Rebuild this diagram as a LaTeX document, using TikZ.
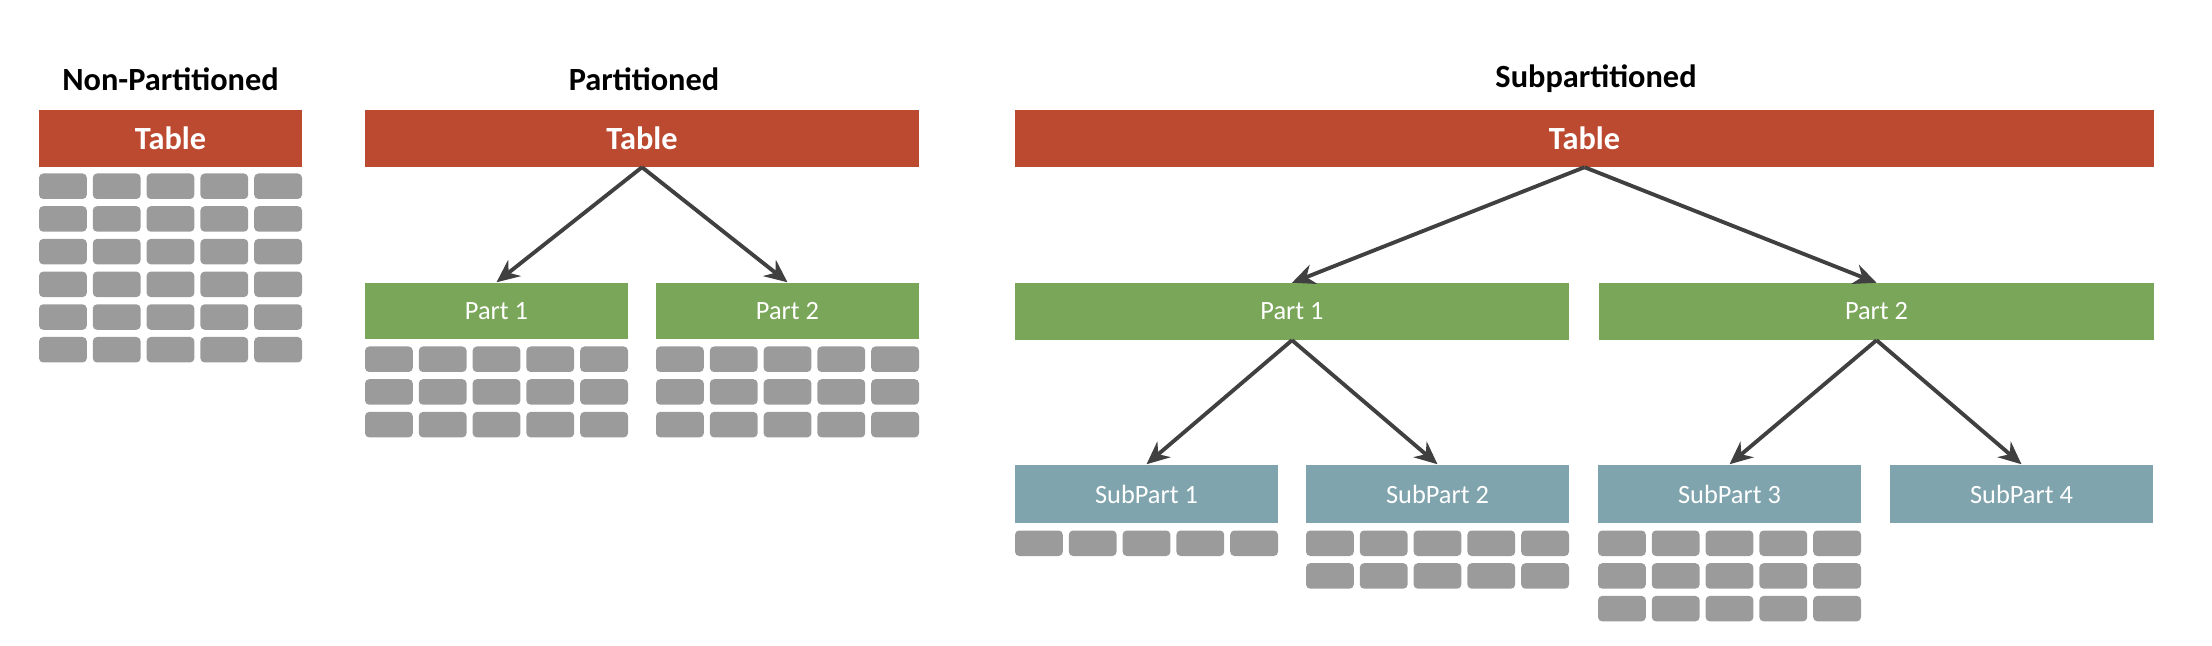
\documentclass[tikz,border=0pt]{standalone}
\usepackage{fontspec}
\setmainfont{Carlito}
\usepackage{xcolor}
\usepackage{tikz}
\usetikzlibrary{arrows.meta}
\definecolor{tablered}{HTML}{BB4A30}
\definecolor{partgreen}{HTML}{7AA65A}
\definecolor{subteal}{HTML}{80A4AD}
\definecolor{cellgray}{HTML}{9B9B9B}
\definecolor{arrowgray}{HTML}{404040}
\tikzset{>={Stealth[length=6.5pt,width=5.8pt]}}
\tikzset{
  title/.style={font=\fontsize{9.2}{11}\selectfont\bfseries},
  box/.style={inner sep=0pt,text=white,minimum height=0.56cm},
  tablebox/.style={box,fill=tablered,font=\fontsize{9.2}{11}\selectfont\bfseries},
  partbox/.style={box,fill=partgreen,font=\fontsize{7.5}{9}\selectfont},
  subbox/.style={box,fill=subteal,minimum height=0.58cm,font=\fontsize{7.5}{9}\selectfont},
  link/.style={->,draw=arrowgray,line width=1.1pt},
  cell/.style={fill=cellgray,rounded corners=1.2pt}
}

\begin{document}
\begin{tikzpicture}[x=0.01cm,y=-0.01cm]
    \useasboundingbox (0,0) rectangle (2212,646);
    % titles
    \node[title] (npt) at (170.5,79) {Non-Partitioned};
    \node[title] (pt) at (644,79) {Partitioned};
    \node[title] (spt) at (1596,79) {Subpartitioned};
    % non-partitioned
    \node[tablebox,minimum width=2.63cm] (nptab) at (170.5,138.5) {Table};
    % partitioned
    \node[tablebox,minimum width=5.54cm] (ptab) at (642,138.5) {Table};
    \node[partbox,minimum width=2.63cm] (ppart1) at (496.5,311) {Part 1};
    \node[partbox,minimum width=2.63cm] (ppart2) at (787.5,311) {Part 2};
    % subpartitioned
    \node[tablebox,minimum width=11.39cm] (stab) at (1584.5,138.5) {Table};
    \node[partbox,minimum width=5.54cm] (spart1) at (1292,311.5) {Part 1};
    \node[partbox,minimum width=5.55cm] (spart2) at (1876.5,311.5) {Part 2};
    \node[subbox,minimum width=2.63cm] (sub1) at (1146.5,494) {SubPart 1};
    \node[subbox,minimum width=2.63cm] (sub2) at (1437.5,494) {SubPart 2};
    \node[subbox,minimum width=2.63cm] (sub3) at (1729.5,494) {SubPart 3};
    \node[subbox,minimum width=2.63cm] (sub4) at (2021.5,494) {SubPart 4};
    % arrows
    \draw[link] (ptab.south) -- (ppart1.north);
    \draw[link] (ptab.south) -- (ppart2.north);
    \draw[link] (stab.south) -- (spart1.north);
    \draw[link] (stab.south) -- (spart2.north);
    \draw[link] (spart1.south) -- (sub1.north);
    \draw[link] (spart1.south) -- (sub2.north);
    \draw[link] (spart2.south) -- (sub3.north);
    \draw[link] (spart2.south) -- (sub4.north);
    % rows of cells
    \foreach \y in {173.5,206.2,238.9,271.6,304.3,337}
      \foreach \x in {39,92.8,146.6,200.4,254.2}
        \fill[cell] (\x,\y) rectangle ++(47.8,25.5);
    \foreach \y in {346.5,379.2,411.9}
      \foreach \x in {365,418.8,472.6,526.4,580.2,656,709.8,763.6,817.4,871.2}
        \fill[cell] (\x,\y) rectangle ++(47.8,25.5);
    \foreach \x in {1015,1068.8,1122.6,1176.4,1230.2}
      \fill[cell] (\x,530.5) rectangle ++(47.8,25.5);
    \foreach \y in {530.5,563.2}
      \foreach \x in {1306,1359.8,1413.6,1467.4,1521.2}
        \fill[cell] (\x,\y) rectangle ++(47.8,25.5);
    \foreach \y in {530.5,563.2,595.9}
      \foreach \x in {1598,1651.8,1705.6,1759.4,1813.2}
        \fill[cell] (\x,\y) rectangle ++(47.8,25.5);
\end{tikzpicture}
\end{document}
